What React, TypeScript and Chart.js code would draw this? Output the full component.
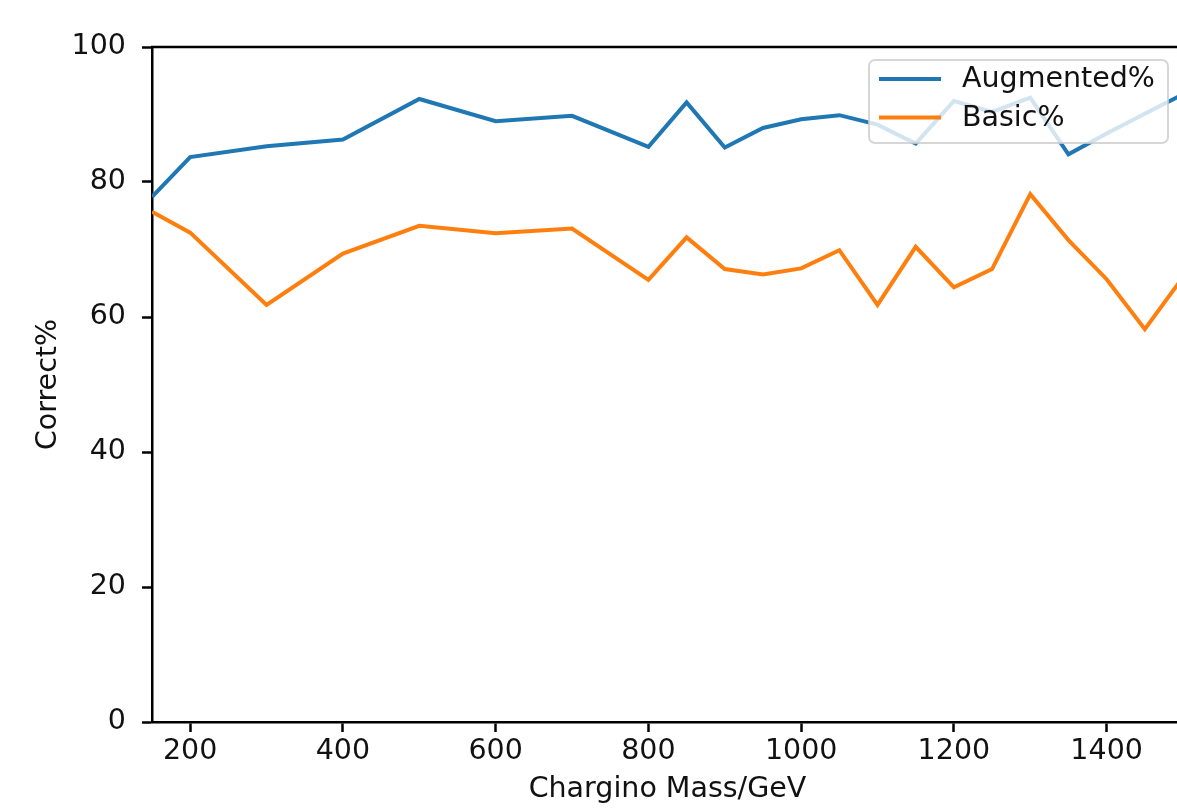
import React, { useEffect, useRef } from "react";
import { Chart, registerables } from "chart.js";

Chart.register(...registerables);

const masses = [150, 200, 300, 400, 500, 600, 700, 800, 850, 900, 950, 1000, 1050, 1100, 1150, 1200, 1250, 1300, 1350, 1400, 1450, 1500];
const augmented = [77.8, 83.7, 85.3, 86.3, 92.3, 89.0, 89.8, 85.2, 91.8, 85.1, 88.0, 89.3, 89.9, 88.5, 85.7, 92.0, 90.4, 92.5, 84.1, 87.2, 90.1, 93.0];
const basic = [75.6, 72.5, 61.8, 69.4, 73.5, 72.4, 73.1, 65.5, 71.8, 67.1, 66.3, 67.2, 69.9, 61.8, 70.4, 64.4, 67.1, 78.2, 71.4, 65.6, 58.2, 65.9];
const xTicks = [200, 400, 600, 800, 1000, 1200, 1400];
const yTicks = [0, 20, 40, 60, 80, 100];
const seriesNames = ["Augmented%", "Basic%"];
const seriesColors = ["#1f77b4", "#ff7f0e"];

const FONT = "DejaVu Sans";
const FS = 28.5;
const TEXT = "#111";

const framePlugin = {
  id: "frame",
  afterDatasetsDraw(chart: any) {
    const { ctx, chartArea } = chart;
    const { left, right, top, bottom } = chartArea;
    ctx.save();
    ctx.strokeStyle = "#000";
    ctx.lineWidth = 2.5;
    ctx.beginPath();
    ctx.moveTo(left - 1, top);
    ctx.lineTo(right + 1, top);
    ctx.moveTo(right, top);
    ctx.lineTo(right, bottom);
    ctx.stroke();

    // legend
    const bw = 299;
    const bh = 83;
    const bx = right - 15 - bw;
    const by = top + 13;
    const r = 6;
    ctx.beginPath();
    ctx.moveTo(bx + r, by);
    ctx.lineTo(bx + bw - r, by);
    ctx.arcTo(bx + bw, by, bx + bw, by + r, r);
    ctx.lineTo(bx + bw, by + bh - r);
    ctx.arcTo(bx + bw, by + bh, bx + bw - r, by + bh, r);
    ctx.lineTo(bx + r, by + bh);
    ctx.arcTo(bx, by + bh, bx, by + bh - r, r);
    ctx.lineTo(bx, by + r);
    ctx.arcTo(bx, by, bx + r, by, r);
    ctx.closePath();
    ctx.fillStyle = "rgba(255,255,255,0.8)";
    ctx.fill();
    ctx.strokeStyle = "rgba(204,204,204,0.8)";
    ctx.lineWidth = 2;
    ctx.stroke();

    ctx.font = `${FS}px "${FONT}"`;
    ctx.textBaseline = "middle";
    ctx.textAlign = "left";
    seriesNames.forEach((name, i) => {
      const cy = by + 19 + i * 38.5;
      ctx.strokeStyle = seriesColors[i];
      ctx.lineWidth = 4;
      ctx.beginPath();
      ctx.moveTo(bx + 10, cy);
      ctx.lineTo(bx + 72, cy);
      ctx.stroke();
      ctx.fillStyle = TEXT;
      ctx.fillText(name, bx + 93, cy + 1);
    });
    ctx.restore();
  },
};

export default function App() {
  const ref = useRef<HTMLCanvasElement | null>(null);

  useEffect(() => {
    const canvas = ref.current;
    if (!canvas) return;
    const chart = new Chart(canvas, {
      type: "line",
      data: {
        datasets: [
          {
            label: seriesNames[0],
            data: masses.map((m, i) => ({ x: m, y: augmented[i] })),
            borderColor: seriesColors[0],
            backgroundColor: seriesColors[0],
            borderWidth: 4,
            pointRadius: 0,
            tension: 0,
          },
          {
            label: seriesNames[1],
            data: masses.map((m, i) => ({ x: m, y: basic[i] })),
            borderColor: seriesColors[1],
            backgroundColor: seriesColors[1],
            borderWidth: 4,
            pointRadius: 0,
            tension: 0,
          },
        ],
      },
      options: {
        animation: false,
        responsive: false,
        maintainAspectRatio: false,
        layout: { padding: { left: 0, top: 47, right: 17, bottom: 0 } },
        plugins: {
          legend: { display: false },
          tooltip: { enabled: false },
        },
        scales: {
          x: {
            type: "linear",
            min: 150,
            max: 1500,
            afterBuildTicks: (scale: any) => {
              scale.ticks = xTicks.map((v) => ({ value: v }));
            },
            afterFit: (scale: any) => {
              scale.height = 86;
            },
            grid: {
              display: true,
              drawOnChartArea: false,
              drawTicks: true,
              tickLength: 10,
              tickColor: "#000",
              tickWidth: 2.5,
            },
            border: { display: true, color: "#000", width: 2.5 },
            ticks: {
              color: TEXT,
              font: { family: FONT, size: FS },
              padding: 2,
              maxRotation: 0,
              autoSkip: false,
              callback: (v: any) => String(v),
            },
            title: {
              display: true,
              text: "Chargino Mass/GeV",
              color: TEXT,
              font: { family: FONT, size: FS },
              padding: { top: 0, bottom: 1 },
            },
          },
          y: {
            type: "linear",
            min: 0,
            max: 100,
            afterBuildTicks: (scale: any) => {
              scale.ticks = yTicks.map((v) => ({ value: v }));
            },
            afterFit: (scale: any) => {
              scale.width = 152;
            },
            grid: {
              display: true,
              drawOnChartArea: false,
              drawTicks: true,
              tickLength: 10,
              tickColor: "#000",
              tickWidth: 2.5,
            },
            border: { display: true, color: "#000", width: 2.5 },
            ticks: {
              color: TEXT,
              font: { family: FONT, size: FS },
              padding: 16,
              autoSkip: false,
              callback: (v: any) => String(v),
            },
            title: {
              display: true,
              text: "Correct%",
              color: TEXT,
              font: { family: FONT, size: FS },
              padding: { top: 31, bottom: 0 },
            },
          },
        },
      },
      plugins: [framePlugin],
    });
    return () => chart.destroy();
  }, []);

  return (
    <div
      style={{
        position: "absolute",
        left: 0,
        top: 0,
        width: 1177,
        height: 808,
        overflow: "hidden",
        background: "#fff",
      }}
    >
      <canvas ref={ref} width={1200} height={808} style={{ width: 1200, height: 808, display: "block" }} />
    </div>
  );
}
